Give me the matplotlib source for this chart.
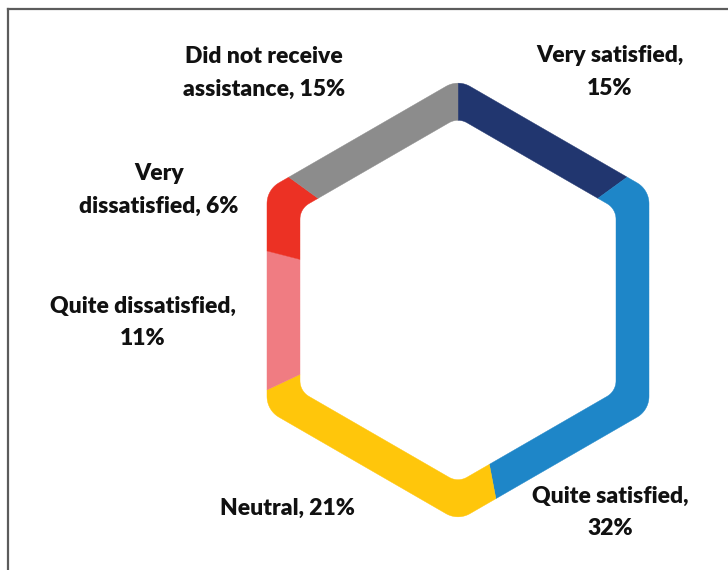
"""
Satisfaction with assistance received, drawn as a hexagonal ring chart.
"""

import numpy as np
import matplotlib
matplotlib.use("Agg")
import matplotlib.pyplot as plt
from matplotlib.patches import Polygon
from matplotlib.lines import Line2D

categories = ["Very satisfied", "Quite satisfied", "Neutral",
              "Quite dissatisfied", "Very dissatisfied",
              "Did not receive assistance"]
shares = [15, 32, 21, 11, 6, 15]
label_texts = ["Very satisfied,\n15%", "Quite satisfied,\n32%", "Neutral, 21%",
               "Quite dissatisfied,\n11%", "Very\ndissatisfied, 6%",
               "Did not receive\nassistance, 15%"]
colors = ["#21366F", "#1E86C8", "#FFC60B", "#F07C82", "#EC3124", "#8C8C8C"]

# label anchor points in figure pixels (x from left, y from top)
label_pos = [(610, 72), (610, 512), (287, 508), (143, 322), (159, 190), (264, 73)]

W, H = 728, 570
CX, CY = 458, H - 300


def rounded_hexagon(apothem, corner, n_arc=30, n_edge=60):
    """Pointy-top hexagon with rounded corners, centred on the origin."""
    core = (apothem - corner) / np.cos(np.radians(30))
    pts = []
    for k in range(6):
        va = np.radians(30 + 60 * k)
        vx, vy = core * np.cos(va), core * np.sin(va)
        arc = np.linspace(va - np.radians(30), va + np.radians(30), n_arc)
        corner_pts = np.c_[vx + corner * np.cos(arc), vy + corner * np.sin(arc)]
        # straight edge up to the next corner
        nb = np.radians(30 + 60 * (k + 1))
        nx, ny = core * np.cos(nb), core * np.sin(nb)
        end = corner_pts[-1]
        start_next = np.array([nx + corner * np.cos(va + np.radians(30)),
                               ny + corner * np.sin(va + np.radians(30))])
        s = np.linspace(0, 1, n_edge)[1:-1, None]
        pts.append(corner_pts)
        pts.append(end + s * (start_next - end))
    return np.vstack(pts)


def polar_radius(outline):
    """Return a function giving the outline's radius at a given angle (deg)."""
    ang = np.degrees(np.arctan2(outline[:, 1], outline[:, 0]))
    rad = np.hypot(outline[:, 0], outline[:, 1])
    order = np.argsort(ang)
    ang, rad = ang[order], rad[order]
    return lambda t: np.interp(np.mod(t + 180, 360) - 180, ang, rad, period=360)


r_outer = polar_radius(rounded_hexagon(191, 24))
r_inner = polar_radius(rounded_hexagon(158, 18))

fig = plt.figure(figsize=(W / 100, H / 100), dpi=100)
ax = fig.add_axes([0, 0, 1, 1])

# segments run clockwise from the top
bounds = 90 - 360 * np.concatenate([[0], np.cumsum(shares)]) / np.sum(shares)
for a0, a1, c in zip(bounds[:-1], bounds[1:], colors):
    t = np.linspace(a0, a1, max(int(abs(a1 - a0) * 4), 2))
    ro, ri = r_outer(t), r_inner(t)
    tr = np.radians(t)
    outer = np.c_[CX + ro * np.cos(tr), CY + ro * np.sin(tr)]
    inner = np.c_[CX + ri * np.cos(tr), CY + ri * np.sin(tr)][::-1]
    ax.add_patch(Polygon(np.vstack([outer, inner]), closed=True,
                         facecolor=c, edgecolor=c, linewidth=0.3))

ax.set_xlim(0, W)
ax.set_ylim(0, H)
ax.set_aspect("equal")
ax.axis("off")

for text, (x, y) in zip(label_texts, label_pos):
    ax.text(x, H - y, text, ha="center", va="center", fontsize=16.5,
            fontweight="heavy", family="Lato", color="#111111",
            linespacing=1.65)

# thin frame along the top and left edges
fig.add_artist(Line2D([8 / W, 8 / W], [0, 1 - 9 / H], color="#5c5c5c",
                      linewidth=1.6, transform=fig.transFigure))
fig.add_artist(Line2D([8 / W, 1], [1 - 9 / H, 1 - 9 / H], color="#5c5c5c",
                      linewidth=1.6, transform=fig.transFigure))

fig.savefig("out.png", dpi=100, facecolor="white")
